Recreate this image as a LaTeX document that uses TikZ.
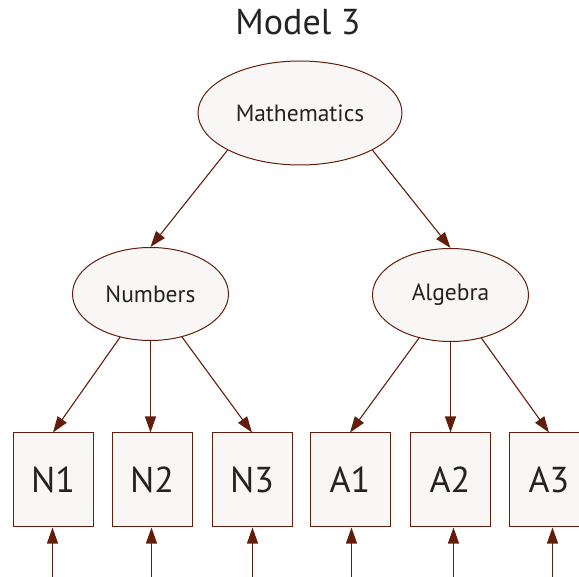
\documentclass[tikz,border=0pt]{standalone}
\usepackage{fontspec}
\setmainfont{PT Sans}
\usetikzlibrary{shapes.geometric, arrows.meta}
\usepackage{xcolor}
\definecolor{linebrown}{RGB}{98,30,10}
\definecolor{paper}{RGB}{248,247,245}
\definecolor{ink}{RGB}{35,35,35}

\begin{document}
\begin{tikzpicture}[x=1pt, y=-1pt,
  latent/.style={ellipse, draw=linebrown, fill=paper, line width=1pt, minimum width=204pt, minimum height=104pt, inner sep=0pt, text=ink, font=\fontsize{23.5}{26}\selectfont},
  smalllatent/.style={latent, minimum width=156pt, minimum height=93pt},
  item/.style={rectangle, draw=linebrown, fill=paper, line width=1pt, minimum width=80pt, minimum height=94pt, inner sep=0pt, text=ink, font=\fontsize{36}{40}\selectfont},
  arrow/.style={-{Triangle[length=16pt,width=11pt]}, line width=1.1pt, draw=linebrown}
]
\useasboundingbox (0,0) rectangle (579,577);
\node[text=ink, font=\fontsize{36}{40}\selectfont] (title) at (298,22) {Model 3};

\node[latent] (maths) at (300,113) {Mathematics};
\node[smalllatent] (numbers) at (150.5,294) {Numbers};
\node[smalllatent] (algebra) at (450.5,295) {Algebra};

\node[item] (n1) at (53,480) {N1};
\node[item] (n2) at (152,480) {N2};
\node[item] (n3) at (252,480) {N3};
\node[item] (a1) at (350,480) {A1};
\node[item] (a2) at (450,480) {A2};
\node[item] (a3) at (549,480) {A3};

% error terms come in from below
\coordinate (e1) at (52.5,577);
\coordinate (e2) at (151.5,577);
\coordinate (e3) at (252.5,577);
\coordinate (e4) at (351.5,577);
\coordinate (e5) at (453.5,577);
\coordinate (e6) at (552.5,577);

\draw[arrow] (maths.south west) -- (numbers.north);
\draw[arrow] (maths.south east) -- (algebra.north);
\draw[arrow] (numbers) -- (n1.north);
\draw[arrow] (numbers) -- (numbers |- n2.north);
\draw[arrow] (numbers) -- (n3.north);
\draw[arrow] (algebra) -- (a1.north);
\draw[arrow] (algebra) -- (algebra |- a2.north);
\draw[arrow] (algebra) -- (a3.north);

\draw[arrow] (e1) -- (e1 |- n1.south);
\draw[arrow] (e2) -- (e2 |- n2.south);
\draw[arrow] (e3) -- (e3 |- n3.south);
\draw[arrow] (e4) -- (e4 |- a1.south);
\draw[arrow] (e5) -- (e5 |- a2.south);
\draw[arrow] (e6) -- (e6 |- a3.south);
\end{tikzpicture}
\end{document}
